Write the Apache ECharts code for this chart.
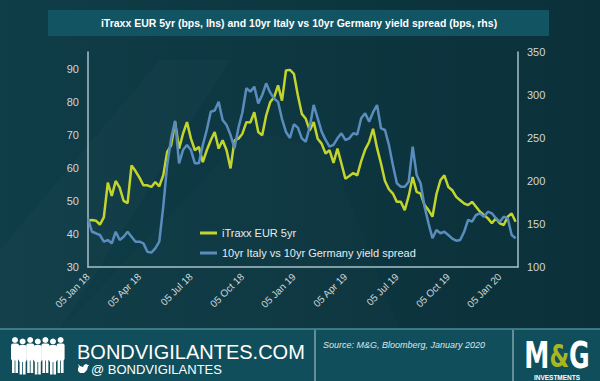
<!DOCTYPE html>
<html><head><meta charset="utf-8">
<script src="https://cdn.jsdelivr.net/npm/echarts@6/dist/echarts.min.js"></script>
<style>html,body{margin:0;padding:0;background:#0d3540;overflow:hidden}#c{width:600px;height:381px}</style>
</head><body><div id="c"></div>
<script>
// ---- data ----
const chartTitle = 'iTraxx EUR 5yr (bps, lhs) and 10yr Italy vs 10yr Germany yield spread (bps, rhs)';
const seriesNames = ['iTraxx EUR 5yr', '10yr Italy vs 10yr Germany yield spread'];
const xTickLabels = ['05 Jan 18','05 Apr 18','05 Jul 18','05 Oct 18','05 Jan 19','05 Apr 19','05 Jul 19','05 Oct 19','05 Jan 20'];
const weeksPerTick = 13;
const sourceText = 'Source: M&G, Bloomberg, January 2020';
// weekly observations, first = 05 Jan 2018
const itraxx = [44,44.2,44,42.8,45,55.5,51.5,56,54,50,49.3,60.7,59,57,54.7,54.7,54.2,55.7,54.4,57.7,
  64.8,66.8,73.8,65.8,70.3,73.8,68.8,65.3,66.3,61.7,65.3,68.3,70.8,65.8,68.3,65.3,59.8,68.3,68.8,70.3,
  73.8,73.7,76.8,70.8,69.8,75.8,79.8,81.3,84.9,80.3,89.4,89.6,88.4,81.9,76.3,74.8,71.3,73.8,68.8,67.3,
  64.3,65.3,61.5,65.8,61.3,56.7,57.5,58.4,57.7,62,65.5,67.8,71.8,66,61.3,56,53.5,52.2,49.7,49.7,
  47.2,51.5,57.2,52.7,52.2,48.7,47.2,45.2,52,56.2,57.7,54.2,53.2,51.2,50.2,49.2,48.7,49.7,48.2,46.7,
  45.7,44.7,43.2,44.7,43.2,42.7,45.2,46.2,43.7];
const btpBund = [156.6,141,139.2,137.2,129.4,131.3,127.5,141,131.4,135.2,141,135.2,129.4,129.4,127.5,117.8,116.7,121.7,129.4,170,
  218.6,249.6,270,220.6,236,241.9,236,220.6,220.6,241.9,259.3,280.6,282,292.2,271,265,253.5,238,262,280,
  307.8,303.9,309.7,290.3,300,313.6,303,296,292,272,257,250,266,262,249.6,245.7,263.1,288.4,273,257.4,
  247.7,239.9,241.9,249.6,255.5,247.7,249.6,255.5,254,272.9,278.7,269,280,288.4,261.3,259.3,242,218.6,197.3,193.4,
  193.4,199.2,239.9,207,197.3,170.1,150.8,133.4,143,139.2,141,137.2,133,130.6,131.4,141,154.7,152.7,160.5,162.4,
  158.5,164.3,162.4,156.6,152.7,158.5,156.6,137.2,133.4];

const chart = echarts.init(document.getElementById('c'), null, {renderer: 'svg'});
const toPairs = arr => arr.map((v, i) => [i, v]);

// decorative figures (logo silhouettes)
const people = [];
for (let i = 0; i < 7; i++) {
  const cx = 15 + i * 7.6, top = 337 + (i % 2) * 1.5;
  people.push({type:'circle', shape:{cx:cx, cy:top + 3, r:3}, style:{fill:'#ffffff'}});
  people.push({type:'rect', shape:{x:cx - 4, y:top + 6.5, width:8, height:17, r:2}, style:{fill:'#ffffff'}});
  people.push({type:'rect', shape:{x:cx - 3, y:top + 22, width:2.6, height:14}, style:{fill:'#ffffff'}});
  people.push({type:'rect', shape:{x:cx + 0.4, y:top + 22, width:2.6, height:14}, style:{fill:'#ffffff'}});
}

const labelColor = '#cfd8db';
const axisLineStyle = {color:'#a7c2ca', width:1.5};

chart.setOption({
  backgroundColor: {type:'linear', x:0, y:0, x2:1, y2:0, colorStops:[{offset:0,color:'#0f3d48'},{offset:1,color:'#0b3039'}]},
  animation: false,
  graphic: [
    {type:'polygon', silent:true, z:-10, shape:{points:[[0,330],[0,250],[160,60],[230,60],[60,330]]}, style:{fill:'rgba(255,255,255,0.018)'}},
    {type:'polygon', silent:true, z:-10, shape:{points:[[60,330],[250,130],[330,150],[400,330]]}, style:{fill:'rgba(255,255,255,0.012)'}},
    {type:'rect', shape:{x:48, y:10, width:501, height:26}, style:{fill:'#135463'}},
    {type:'text', x:299, y:23, style:{text:chartTitle, fill:'#ffffff', font:'bold 10.5px Arial, "Liberation Sans", sans-serif', align:'center', verticalAlign:'middle'}},
    {type:'rect', shape:{x:0, y:329, width:600, height:52}, style:{fill:'#114e5b'}},
    {type:'line', shape:{x1:0, y1:329, x2:600, y2:329}, style:{stroke:'#4d8c98', lineWidth:1.5}},
    {type:'line', shape:{x1:315, y1:330, x2:315, y2:381}, style:{stroke:'#b9cfd4', lineWidth:1}},
    {type:'line', shape:{x1:513, y1:330, x2:513, y2:381}, style:{stroke:'#b9cfd4', lineWidth:1}},
    ...people,
    {type:'text', x:77, y:352, style:{text:'BONDVIGILANTES.COM', fill:'#ffffff', font:'20px Arial, "Liberation Sans", sans-serif', verticalAlign:'middle'}},
    {type:'polygon', shape:{points:[[78,371],[80,373],[84,373],[87,370],[88,366],[89.5,365],[88,365],[86,364],[84,365],[83,367],[80,366],[78,364],[79,367],[78,368]]}, style:{fill:'#ffffff'}},
    {type:'text', x:91, y:369, style:{text:'@ BONDVIGILANTES', fill:'#ffffff', font:'13px Arial, "Liberation Sans", sans-serif', verticalAlign:'middle'}},
    {type:'text', x:323, y:345, style:{text:sourceText, fill:'#dde6e8', font:'italic 9px Arial, "Liberation Sans", sans-serif', verticalAlign:'middle'}},
    {type:'text', x:557, y:356, scaleY:1.3, style:{text:'{a|M}{b|&}{a|G}', align:'center', verticalAlign:'middle',
      rich:{a:{fill:'#ffffff', font:'bold 28px "Liberation Sans Narrow", "DejaVu Sans Condensed", sans-serif'},
            b:{fill:'#a9b61f', font:'bold 25px "Liberation Sans Narrow", "DejaVu Sans Condensed", sans-serif'}}}},
    {type:'text', x:557, y:377.5, style:{text:'INVESTMENTS', fill:'#ffffff', align:'center', verticalAlign:'middle', font:'bold 6.5px Arial, sans-serif'}}
  ],
  legend: {
    orient:'vertical', left:200, top:226, padding:0, itemGap:6, itemWidth:17, itemHeight:3,
    icon:'rect', textStyle:{color:'#e6ecee', fontSize:11, fontFamily:'Arial, "Liberation Sans", sans-serif', lineHeight:14},
    data: seriesNames
  },
  grid: {left:88, right:82, top:52, bottom:114, containLabel:false},
  xAxis: {
    type:'value', min:0, max:108.6, interval:weeksPerTick,
    axisLine:{show:true, lineStyle:axisLineStyle}, axisTick:{show:false}, splitLine:{show:false},
    axisLabel:{rotate:45, margin:8, color:labelColor, fontSize:10, fontFamily:'Arial, "Liberation Sans", sans-serif',
      showMaxLabel:false, formatter: v => xTickLabels[Math.round(v / weeksPerTick)] || ''}
  },
  yAxis: [
    {type:'value', min:30, max:95, interval:10, position:'left',
     axisLine:{show:true, lineStyle:axisLineStyle}, axisTick:{show:false}, splitLine:{show:false},
     axisLabel:{margin:9, color:labelColor, fontSize:11, fontFamily:'Arial, "Liberation Sans", sans-serif', showMaxLabel:false}},
    {type:'value', min:100, max:350, interval:50, position:'right',
     axisLine:{show:true, lineStyle:axisLineStyle}, axisTick:{show:false}, splitLine:{show:false},
     axisLabel:{margin:9, color:labelColor, fontSize:11, fontFamily:'Arial, "Liberation Sans", sans-serif'}}
  ],
  series: [
    {name:seriesNames[0], type:'line', yAxisIndex:0, data:toPairs(itraxx), showSymbol:false, symbol:'none',
     lineStyle:{color:'#c3d52c', width:2.5}, itemStyle:{color:'#c3d52c'}},
    {name:seriesNames[1], type:'line', yAxisIndex:1, data:toPairs(btpBund), showSymbol:false, symbol:'none',
     lineStyle:{color:'#5a8dbd', width:2.5}, itemStyle:{color:'#5a8dbd'}}
  ]
});
</script></body></html>
